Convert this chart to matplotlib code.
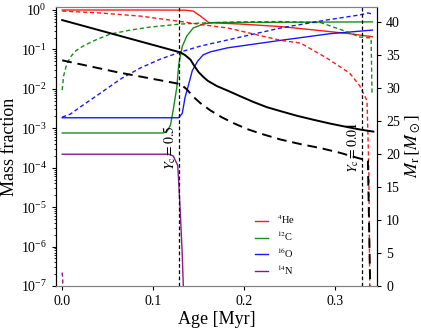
#!/usr/bin/env python3
"""Central and shell abundances vs age during core He burning, plus mass coordinates."""

import matplotlib
matplotlib.use("Agg")
import matplotlib.pyplot as plt  # noqa: E402


# ---------------------------------------------------------------------------
# Data
# ---------------------------------------------------------------------------

# solid lines: abundances (left axis)
he4_age = [0.0, 0.10, 0.135, 0.144, 0.152, 0.161, 0.196, 0.240, 0.284, 0.316, 0.341]
he4_val = [1.0, 1.0, 0.99, 0.94, 0.70, 0.48, 0.44, 0.38, 0.30, 0.25, 0.21]

c12_age = [0.0, 0.111, 0.115, 0.119, 0.122, 0.126, 0.128, 0.132, 0.137, 0.144, 0.155, 0.165, 0.341]
c12_val = [7.6e-4, 7.6e-4, 8.2e-4, 1.2e-3, 2.9e-3, 1.1e-2, 4.0e-2, 0.12, 0.22, 0.35, 0.44, 0.48, 0.50]

o16_age = [0.0, 0.128, 0.132, 0.135, 0.139, 0.143, 0.149, 0.155, 0.163, 0.182, 0.240, 0.294, 0.341]
o16_val = [1.85e-3, 1.85e-3, 2.4e-3, 6.0e-3, 1.3e-2, 2.9e-2, 5.1e-2, 7.3e-2, 8.7e-2, 0.11, 0.17, 0.25, 0.31]

n14_age = [0.0, 0.117, 0.122, 0.127, 0.128, 0.130, 0.132, 0.133, 0.134, 0.136]
n14_val = [2.2e-4, 2.2e-4, 2.0e-4, 1.15e-4, 4.5e-5, 6.0e-6, 6.0e-7, 1.2e-7, 1e-8, 1e-12]

# dashed lines: central abundances (left axis)
he4c_age = [0.0, 0.042, 0.086, 0.133, 0.155, 0.182, 0.240, 0.262, 0.291, 0.316, 0.327,
            0.335, 0.336, 0.337, 0.338, 0.339]
he4c_val = [0.94, 0.84, 0.70, 0.50, 0.42, 0.35, 0.17, 0.145, 0.06, 0.025, 0.012,
            5e-3, 7.5e-4, 8.6e-5, 1e-7, 1e-12]

c12c_age = [0.0, 0.0015, 0.0047, 0.009, 0.0146, 0.023, 0.0366, 0.053, 0.075, 0.097, 0.130,
            0.155, 0.196, 0.240, 0.284, 0.313, 0.327, 0.3395, 0.3405]
c12c_val = [9.3e-3, 0.021, 0.040, 0.064, 0.091, 0.122, 0.173, 0.246, 0.31, 0.37, 0.44,
            0.47, 0.50, 0.51, 0.48, 0.28, 0.206, 0.195, 7.8e-3]

o16c_age = [0.0, 0.0091, 0.0201, 0.042, 0.064, 0.086, 0.108, 0.130, 0.152, 0.196, 0.240,
            0.291, 0.327, 0.336, 0.341]
o16c_val = [1.92e-3, 2.3e-3, 3.5e-3, 7.8e-3, 1.77e-2, 3.4e-2, 5.7e-2, 8.6e-2, 0.122, 0.206, 0.35,
            0.56, 0.75, 0.84, 0.79]

n14c_age = [0.0, 0.0006, 0.0012]
n14c_val = [2.2e-7, 1.5e-7, 1e-12]

# black lines: mass coordinates (right axis, Msun)
mtot_age = [0.0, 0.130, 0.135, 0.141, 0.145, 0.150, 0.155, 0.160, 0.170, 0.182, 0.195,
            0.210, 0.225, 0.240, 0.258, 0.276, 0.295, 0.313, 0.328, 0.342]
mtot_val = [40.3, 35.4, 35.0, 34.3, 33.4, 32.4, 31.7, 31.1, 30.3, 29.6, 28.8,
            27.9, 27.1, 26.5, 25.8, 25.2, 24.6, 24.1, 23.7, 23.4]

mcore_age = [0.0, 0.0606, 0.130, 0.137, 0.144, 0.152, 0.163, 0.175, 0.188, 0.203, 0.218,
             0.240, 0.262, 0.284, 0.305, 0.325, 0.336, 0.3385]
mcore_val = [34.2, 32.4, 30.6, 29.8, 28.7, 27.7, 26.6, 25.6, 24.7, 23.8, 23.1,
             22.2, 21.5, 20.9, 20.2, 19.4, 19.0, 0.1]

# markers of central He fraction
yc_ages = [0.1285, 0.330]
yc_labels = [r"$Y_{\rm c}=0.5$", r"$Y_{\rm c}=0.01$"]

species_labels = [r"$^{4}$He", r"$^{12}$C", r"$^{16}$O", r"$^{14}$N"]
species_colors = ["r", "g", "b", "purple"]


# ---------------------------------------------------------------------------
# Plotting
# ---------------------------------------------------------------------------

def main():
    plt.rcParams["font.family"] = "serif"
    plt.rcParams["font.serif"] = ["Liberation Serif", "DejaVu Serif"]
    plt.rcParams["mathtext.fontset"] = "stix"

    fig = plt.figure(figsize=(4.21, 3.28), dpi=100)
    ax = fig.add_axes([0.133, 0.128, 0.7625, 0.851])
    ax2 = ax.twinx()

    solid = [(he4_age, he4_val), (c12_age, c12_val), (o16_age, o16_val), (n14_age, n14_val)]
    dashed = [(he4c_age, he4c_val), (c12c_age, c12c_val), (o16c_age, o16c_val), (n14c_age, n14c_val)]

    for (xs, ys), c, lab in zip(solid, species_colors, species_labels):
        ax.plot(xs, ys, color=c, lw=1.0, alpha=0.9, label=lab)
    for (xs, ys), c in zip(dashed, species_colors):
        ax.plot(xs, ys, color=c, lw=1.0, ls="--", alpha=0.9, dashes=(3, 2))

    for age, txt in zip(yc_ages, yc_labels):
        ax.axvline(age, color="k", ls="--", lw=0.9, dashes=(3, 2))
        ax.text(age - 0.0105, 3.3e-4, txt, rotation=90, ha="center", va="center", fontsize=10)

    ax2.plot(mtot_age, mtot_val, color="k", lw=1.4)
    ax2.plot(mcore_age, mcore_val, color="k", lw=1.4, ls="--", dashes=(5, 3))

    ax.set_yscale("log")
    ax.set_ylim(1e-7, 1.2)
    ax.set_xlim(-0.0068, 0.346)
    ax.set_xticks([0.0, 0.1, 0.2, 0.3])
    ax.set_yticks([10.0 ** k for k in range(-7, 1)])
    ax2.set_ylim(0, 42.3)
    ax2.set_yticks(range(0, 41, 5))

    ax.set_xlabel("Age [Myr]", fontsize=13, labelpad=2)
    ax.set_ylabel("Mass fraction", fontsize=13, labelpad=2)
    ax2.set_ylabel(r"$M_{\rm r}\,[M_\odot]$", fontsize=13, labelpad=2)

    ax.tick_params(labelsize=10, length=3)
    ax.tick_params(which="minor", length=1.5)
    ax2.tick_params(labelsize=10, length=3)
    for a in (ax, ax2):
        a.spines["top"].set_color("0.5")
        a.spines["bottom"].set_color("0.5")

    ax.legend(loc="lower left", bbox_to_anchor=(0.59, 0.0), frameon=False,
              fontsize=7.5, handlelength=1.3, labelspacing=0.3)

    fig.savefig("out.png", dpi=100)
    plt.close(fig)


if __name__ == "__main__":
    main()
